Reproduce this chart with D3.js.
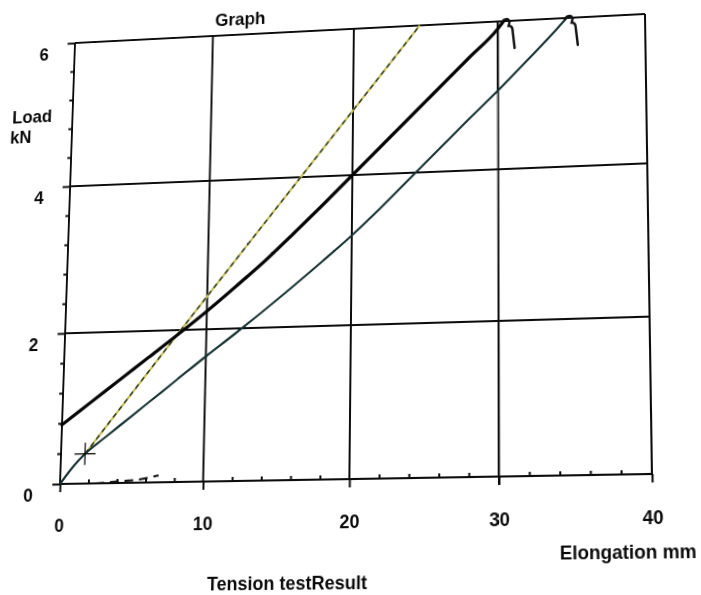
<!DOCTYPE html>
<html>
<head>
<meta charset="utf-8">
<script src="https://cdn.jsdelivr.net/npm/d3@7"></script>
<style>
  html, body { margin: 0; padding: 0; background: #fff; overflow: hidden; }
  #sheet { position: absolute; left: 0; top: 0; width: 701px; height: 595px; transform-origin: 0 0; }
  #sg { overflow: visible; }
  text { font-family: "Liberation Sans", Arial, sans-serif; font-weight: bold; font-size: 18px; fill: #0a0a0a; }
</style>
</head>
<body>
<div id="sheet"><svg id="sg"></svg></div>
<script>
// thick black curve
const curveAx = [0, 2, 4, 6, 8, 10, 12, 14, 16, 18, 20, 22, 24, 26, 28, 30, 30.4];
const curveAy = [0.78, 1.07, 1.36, 1.65, 1.94, 2.24, 2.56, 2.89, 3.25, 3.62, 4.0, 4.38, 4.76, 5.14, 5.52, 5.9, 6.0];
// thinner dark curve from the origin
const curveBx = [0, 0.5, 1, 1.7, 3, 4, 6, 8, 10, 12, 14, 16, 18, 20, 22, 24, 26, 28, 30, 32, 34, 34.7];
const curveBy = [0, 0.13, 0.25, 0.39, 0.59, 0.74, 1.04, 1.34, 1.64, 1.93, 2.23, 2.54, 2.86, 3.19, 3.55, 3.93, 4.31, 4.69, 5.06, 5.45, 5.85, 6.0];
// yellow dashed slope line
const slopeX = [1.7, 8.2, 16.4, 24.6];
const slopeY = [0.39, 2.0, 4.0, 6.0];
// short dashed stroke near the x axis
const tailX = [2.5, 4, 5.5, 6.9];
const tailY = [0.0, 0.02, 0.04, 0.09];
// cross mark
const crossX = [1.7];
const crossY = [0.39];
const xTicks = [0, 10, 20, 30, 40];
const yTicks = [0, 2, 4, 6];

const W = 701, H = 595;
const pLeft = 60, pRight = 650, pTop = 30, pBottom = 480;

const x = d3.scaleLinear().domain([0, 40]).range([pLeft, pRight]);
const y = d3.scaleLinear().domain([0, 6]).range([pBottom, pTop]);

// the scanned sheet is a bit skewed: map the plot corners onto it
const paperFrom = [[pLeft, pBottom], [pRight, pBottom], [pLeft, pTop], [pRight, pTop]];
const paperTo = [[60, 484], [652, 474], [75, 43], [645, 14]];

function homography(src, dst) {
  const A = [], b = [];
  src.forEach(([sx, sy], i) => {
    const [X, Y] = dst[i];
    A.push([sx, sy, 1, 0, 0, 0, -sx * X, -sy * X]); b.push(X);
    A.push([0, 0, 0, sx, sy, 1, -sx * Y, -sy * Y]); b.push(Y);
  });
  for (let c = 0; c < 8; c++) {
    let p = c;
    for (let r = c + 1; r < 8; r++) if (Math.abs(A[r][c]) > Math.abs(A[p][c])) p = r;
    [A[c], A[p]] = [A[p], A[c]]; [b[c], b[p]] = [b[p], b[c]];
    for (let r = 0; r < 8; r++) {
      if (r === c) continue;
      const f = A[r][c] / A[c][c];
      for (let k = c; k < 8; k++) A[r][k] -= f * A[c][k];
      b[r] -= f * b[c];
    }
  }
  return b.map((v, i) => v / A[i][i]);
}
const [ha, hb, hc, hd, he, hf, hg, hh] = homography(paperFrom, paperTo);
document.getElementById("sheet").style.transform =
  `matrix3d(${ha},${hd},0,${hg},${hb},${he},0,${hh},0,0,1,0,${hc},${hf},0,1)`;

// screen position -> sheet position (for free text)
function unwarp(X, Y) {
  const m11 = ha - hg * X, m12 = hb - hh * X, r1 = X - hc;
  const m21 = hd - hg * Y, m22 = he - hh * Y, r2 = Y - hf;
  const det = m11 * m22 - m12 * m21;
  return [(r1 * m22 - m12 * r2) / det, (m11 * r2 - m21 * r1) / det];
}

const svg = d3.select("#sg").attr("width", W).attr("height", H);
const ink = "#0c0c0c";

// grid
const grid = svg.append("g").attr("stroke", ink).attr("stroke-width", 2);
grid.selectAll(".v").data(xTicks).enter().append("line")
  .attr("x1", d => x(d)).attr("x2", d => x(d))
  .attr("y1", y(6)).attr("y2", y(0));
grid.selectAll(".h").data(yTicks).enter().append("line")
  .attr("x1", x(0)).attr("x2", x(40))
  .attr("y1", d => y(d)).attr("y2", d => y(d));

// axes
let xAxis = d3.axisBottom(x).tickValues(xTicks).tickSize(8).tickPadding(26).tickFormat(d3.format("d"));
let xMinor = d3.axisBottom(x).tickValues(d3.range(2, 40, 2).filter(d => d % 10)).tickSize(-4).tickFormat("");
let yAxis = d3.axisLeft(y).tickValues(yTicks).tickSize(8).tickPadding(20).tickFormat(d3.format("d"));
let yMinor = d3.axisLeft(y).tickValues(d3.range(0.4, 6, 0.4).filter(d => Math.abs(d / 2 - Math.round(d / 2)) > 0.01)).tickSize(4).tickFormat("");

function style(g) {
  g.select(".domain").remove();
  g.selectAll("line").attr("stroke", ink).attr("stroke-width", 2);
}
svg.append("g").attr("transform", "translate(0," + pBottom + ")").call(xAxis).call(style);
svg.append("g").attr("transform", "translate(0," + pBottom + ")").call(xMinor).call(style);
svg.append("g").attr("transform", "translate(" + pLeft + ",0)").call(yAxis).call(style)
  .selectAll("text").attr("dy", "0.89em");
svg.append("g").attr("transform", "translate(" + pLeft + ",0)").call(yMinor).call(style);

// curves
const toPts = (xs, ys) => xs.map((v, i) => [v, ys[i]]);
let line = d3.line().x(d => x(d[0])).y(d => y(d[1])).curve(d3.curveMonotoneX);

svg.append("path").datum(toPts(slopeX, slopeY))
  .attr("fill", "none").attr("stroke", "#c9c35e").attr("stroke-width", 2.2).attr("d", line);
svg.append("path").datum(toPts(slopeX, slopeY))
  .attr("fill", "none").attr("stroke", "#2e3a2c").attr("stroke-width", 1.5)
  .attr("stroke-dasharray", "5,4").attr("d", line);

svg.append("path").datum(toPts(curveBx, curveBy))
  .attr("fill", "none").attr("stroke", "#173030").attr("stroke-width", 2.2)
  .attr("stroke-linejoin", "round").attr("d", line);

svg.append("path").datum(toPts(curveAx, curveAy))
  .attr("fill", "none").attr("stroke", "#050505").attr("stroke-width", 3.4)
  .attr("stroke-linejoin", "round").attr("stroke-linecap", "round").attr("d", line);

svg.append("path").datum(toPts(tailX, tailY))
  .attr("fill", "none").attr("stroke", ink).attr("stroke-width", 2)
  .attr("stroke-dasharray", "9,6").attr("d", line);

// cross mark
const cross = svg.append("g").attr("stroke", ink).attr("stroke-width", 1.3);
toPts(crossX, crossY).forEach(d => {
  cross.append("line").attr("x1", x(d[0]) - 11).attr("x2", x(d[0]) + 11).attr("y1", y(d[1])).attr("y2", y(d[1]));
  cross.append("line").attr("x1", x(d[0])).attr("x2", x(d[0])).attr("y1", y(d[1]) - 11).attr("y2", y(d[1]) + 11);
});

// hand-drawn break marks at the curve ends
[[curveAx, curveAy], [curveBx, curveBy]].forEach(([xs, ys]) => {
  const px = x(xs[xs.length - 1]), py = y(ys[ys.length - 1]);
  svg.append("path")
    .attr("transform", "translate(" + px + "," + py + ")")
    .attr("fill", "none").attr("stroke", "#111").attr("stroke-width", 2.4)
    .attr("stroke-linecap", "round")
    .attr("d", "M-2,1 C1,-3 5,-3 6,1 L5,5 C8,5 9,7 9,10 L11,28");
});

// text
const label = (t, pos) => {
  const [lx, ly] = unwarp(pos[0], pos[1]);
  svg.append("text").attr("x", lx).attr("y", ly).text(t);
};
label("Graph", [215, 26]);
label("Load", [12, 124]);
label("kN", [10, 144]);
label("Elongation mm", [560, 560]);
label("Tension testResult", [207, 590]);
</script>
</body>
</html>
